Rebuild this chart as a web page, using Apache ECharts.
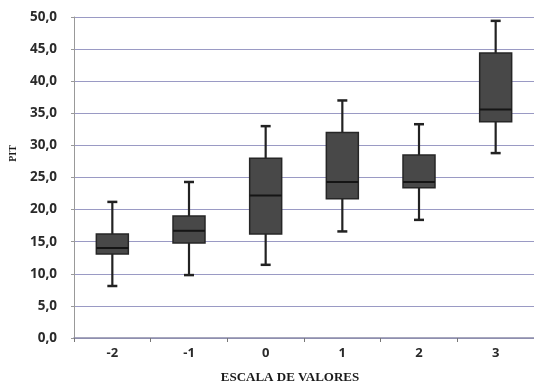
<!DOCTYPE html>
<html>
<head>
<meta charset="utf-8">
<script src="https://cdn.jsdelivr.net/npm/echarts@6/dist/echarts.min.js"></script>
<style>html,body{margin:0;padding:0;background:#fff}#c{width:534px;height:389px}</style>
</head>
<body>
<div id="c"></div>
<script>
var categories = ['-2', '-1', '0', '1', '2', '3'];
var whiskerLow = [8.1, 9.8, 11.4, 16.6, 18.4, 28.8];
var q1 = [13.1, 14.8, 16.2, 21.7, 23.4, 33.7];
var median = [14.0, 16.7, 22.2, 24.3, 24.3, 35.6];
var q3 = [16.2, 19.0, 28.0, 32.0, 28.5, 44.4];
var whiskerHigh = [21.2, 24.3, 33.0, 37.0, 33.3, 49.4];
var yTicks = [0, 5, 10, 15, 20, 25, 30, 35, 40, 45, 50];

var data = categories.map(function (c, i) {
  return [i, whiskerLow[i], q1[i], median[i], q3[i], whiskerHigh[i]];
});

var chart = echarts.init(document.getElementById('c'), null, {renderer: 'canvas'});
chart.setOption({
  animation: false,
  backgroundColor: '#fff',
  grid: {left: 74, top: 17, width: 465, height: 324, containLabel: false},
  xAxis: {
    type: 'category',
    data: categories,
    name: 'ESCALA DE VALORES',
    nameLocation: 'middle',
    nameGap: 33,
    nameTextStyle: {fontFamily: 'Liberation Serif', fontWeight: 'bold', fontSize: 13, color: '#1a1a1a', padding: [0, 28, 0, 0]},
    axisLine: {lineStyle: {color: '#8a8aa8', width: 1.5}},
    axisTick: {show: true, length: 4, lineStyle: {color: '#777'}},
    axisLabel: {fontFamily: 'Open Sans', fontWeight: 'bold', fontSize: 13, color: '#2a2a2a', margin: 9},
    splitLine: {show: false}
  },
  yAxis: {
    type: 'value',
    min: 0, max: 50, interval: 5,
    name: 'PIT',
    nameLocation: 'middle',
    nameGap: 56,
    nameRotate: 90,
    nameTextStyle: {fontFamily: 'Liberation Serif', fontWeight: 'bold', fontSize: 10, color: '#1a1a1a', padding: [0, 0, 0, 48]},
    axisLine: {show: true, lineStyle: {color: '#999', width: 1}},
    axisTick: {show: true, length: 3, lineStyle: {color: '#999'}},
    axisLabel: {
      fontFamily: 'Open Sans', fontWeight: 'bold', fontSize: 13.5, color: '#2a2a2a', margin: 17,
      formatter: function (v) { return v.toFixed(1).replace('.', ','); }
    },
    splitLine: {show: true, lineStyle: {color: '#9a9ac4', width: 1}}
  },
  series: [{
    type: 'custom',
    data: data,
    encode: {x: 0, y: [1, 2, 3, 4, 5]},
    renderItem: function (params, api) {
      var i = api.value(0);
      var pLow = api.coord([i, api.value(1)]);
      var pQ1 = api.coord([i, api.value(2)]);
      var pMed = api.coord([i, api.value(3)]);
      var pQ3 = api.coord([i, api.value(4)]);
      var pHigh = api.coord([i, api.value(5)]);
      var bw = 32, cw = 10, x = pMed[0];
      var lineStyle = {stroke: '#222', lineWidth: 2.2};
      return {
        type: 'group',
        children: [
          {type: 'line', shape: {x1: x, y1: pHigh[1], x2: x, y2: pQ3[1]}, style: lineStyle},
          {type: 'line', shape: {x1: x, y1: pQ1[1], x2: x, y2: pLow[1]}, style: lineStyle},
          {type: 'line', shape: {x1: x - cw / 2, y1: pHigh[1], x2: x + cw / 2, y2: pHigh[1]}, style: {stroke: '#222', lineWidth: 2.5}},
          {type: 'line', shape: {x1: x - cw / 2, y1: pLow[1], x2: x + cw / 2, y2: pLow[1]}, style: {stroke: '#222', lineWidth: 2.5}},
          {type: 'rect', shape: {x: x - bw / 2, y: pQ3[1], width: bw, height: pQ1[1] - pQ3[1]}, style: {fill: '#484848', stroke: '#262626', lineWidth: 1.5}},
          {type: 'line', shape: {x1: x - bw / 2, y1: pMed[1], x2: x + bw / 2, y2: pMed[1]}, style: {stroke: '#151515', lineWidth: 2}}
        ]
      };
    }
  }]
});
</script>
</body>
</html>
